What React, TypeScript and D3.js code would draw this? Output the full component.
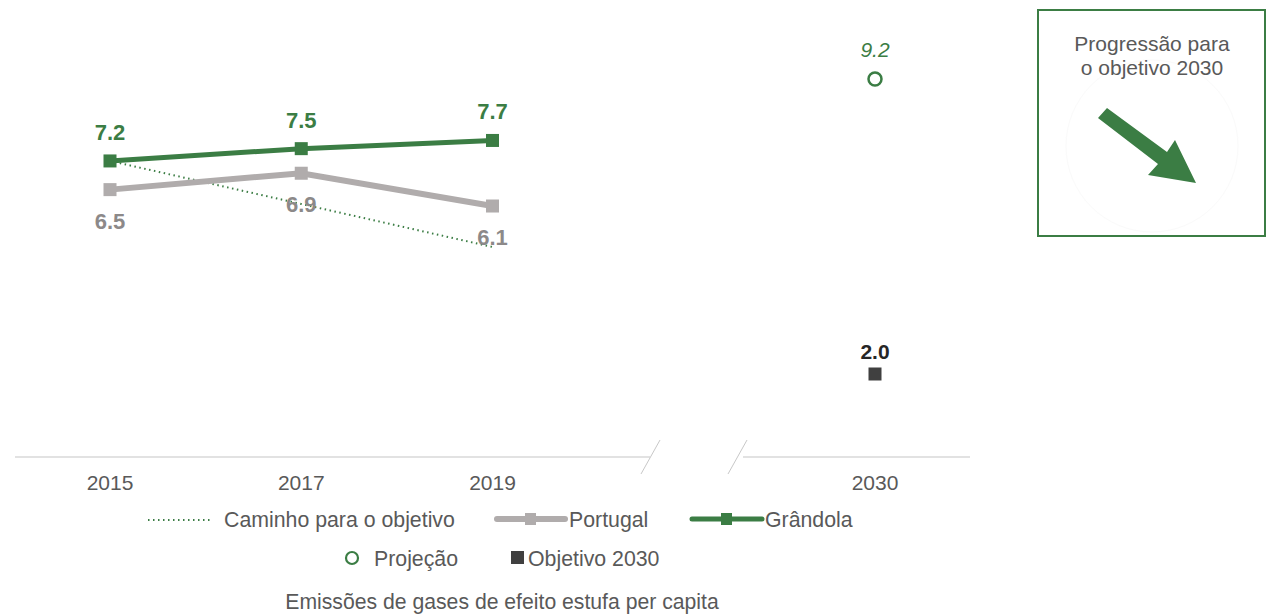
import React from "react";
import * as d3 from "d3";

const years = ["2015", "2017", "2019", "gap", "2030"];
const histYears = ["2015", "2017", "2019"];
const grandola = [7.2, 7.5, 7.7];
const portugal = [6.5, 6.9, 6.1];
const caminho = [7.2, 6.15, 5.1];
const projecao = 9.2;
const objetivo = 2.0;

const GREEN = "#3b7d44";
const GRAY = "#b0acac";
const GRAY_TXT = "#8c8989";
const DARK = "#404040";
const TXT = "#595959";
const FONT = "'Liberation Sans', Arial, sans-serif";

export default function App() {
  const x = d3.scalePoint<string>().domain(years).range([110, 875]);
  const y = d3.scaleLinear().domain([2, 9.2]).range([374, 79]);
  const line = d3
    .line<number>()
    .x((_, i) => x(histYears[i])!)
    .y((d) => y(d));
  const fmt = d3.format(".1f");
  const axisY = 457;
  const sq = 13;

  return (
    <svg
      width={1269}
      height={614}
      style={{ position: "absolute", left: 0, top: 0, fontFamily: FONT }}
    >
      {/* axis with break */}
      <line x1={15} x2={650} y1={axisY} y2={axisY} stroke="#d9d9d9" strokeWidth={1.5} />
      <line x1={743} x2={970} y1={axisY} y2={axisY} stroke="#d9d9d9" strokeWidth={1.5} />
      <line x1={660} y1={440} x2={641} y2={474} stroke="#c8c8c8" strokeWidth={1} />
      <line x1={747} y1={440} x2={728} y2={474} stroke="#c8c8c8" strokeWidth={1} />
      {years
        .filter((d) => d !== "gap")
        .map((d) => (
          <text key={d} x={x(d)} y={490} textAnchor="middle" fontSize={21} fill={TXT}>
            {d}
          </text>
        ))}

      {/* caminho */}
      <path d={line(caminho)!} fill="none" stroke={GREEN} strokeWidth={2} strokeDasharray="1.5 3.5" />
      {/* portugal */}
      <path d={line(portugal)!} fill="none" stroke={GRAY} strokeWidth={6} />
      {portugal.map((v, i) => (
        <g key={"p" + i}>
          <rect x={x(histYears[i])! - sq / 2} y={y(v) - sq / 2} width={sq} height={sq} fill={GRAY} />
          <text x={x(histYears[i])} y={y(v) + 39} textAnchor="middle" fontSize={22} fontWeight="bold" fill={GRAY_TXT}>
            {fmt(v)}
          </text>
        </g>
      ))}
      {/* grandola */}
      <path d={line(grandola)!} fill="none" stroke={GREEN} strokeWidth={5} />
      {grandola.map((v, i) => (
        <g key={"g" + i}>
          <rect x={x(histYears[i])! - sq / 2} y={y(v) - sq / 2} width={sq} height={sq} fill={GREEN} />
          <text x={x(histYears[i])} y={y(v) - 21} textAnchor="middle" fontSize={22} fontWeight="bold" fill={GREEN}>
            {fmt(v)}
          </text>
        </g>
      ))}

      {/* projecao */}
      <circle cx={x("2030")} cy={y(projecao)} r={6.5} fill="none" stroke={GREEN} strokeWidth={2.5} />
      <text x={x("2030")} y={y(projecao) - 22} textAnchor="middle" fontSize={21} fontStyle="italic" fill={GREEN}>
        {fmt(projecao)}
      </text>
      {/* objetivo */}
      <rect x={x("2030")! - 6.5} y={y(objetivo) - 6.5} width={13} height={13} fill={DARK} />
      <text x={x("2030")} y={y(objetivo) - 15} textAnchor="middle" fontSize={21} fontWeight="bold" fill="#262626">
        {fmt(objetivo)}
      </text>

      {/* legend row 1 */}
      <line x1={148} x2={212} y1={520} y2={520} stroke={GREEN} strokeWidth={2} strokeDasharray="1.5 3.5" />
      <text x={224} y={527} fontSize={21.3} fill={TXT}>Caminho para o objetivo</text>
      <line x1={497} x2={565} y1={519} y2={519} stroke={GRAY} strokeWidth={6} strokeLinecap="round" />
      <rect x={525} y={513} width={11} height={12} fill={GRAY} />
      <text x={569} y={527} fontSize={21.3} fill={TXT}>Portugal</text>
      <line x1={692} x2={762} y1={519} y2={519} stroke={GREEN} strokeWidth={5} strokeLinecap="round" />
      <rect x={721} y={513} width={11} height={12} fill={GREEN} />
      <text x={765} y={527} fontSize={21.3} fill={TXT}>Grândola</text>
      {/* legend row 2 */}
      <circle cx={352} cy={558} r={6} fill="none" stroke={GREEN} strokeWidth={2.2} />
      <text x={374} y={566} fontSize={21.3} fill={TXT}>Projeção</text>
      <rect x={511} y={551} width={13} height={13} fill={DARK} />
      <text x={528} y={566} fontSize={21.3} fill={TXT}>Objetivo 2030</text>

      <text x={502} y={609} textAnchor="middle" fontSize={21.2} fill={TXT}>
        Emissões de gases de efeito estufa per capita
      </text>

      {/* progress box */}
      <rect x={1038} y={10} width={227} height={226} fill="none" stroke={GREEN} strokeWidth={2} />
      <circle cx={1152} cy={146} r={86} fill="none" stroke="#fafafa" strokeWidth={1} />
      <text x={1152} y={51} textAnchor="middle" fontSize={21} fill={TXT}>Progressão para</text>
      <text x={1152} y={75} textAnchor="middle" fontSize={21} fill={TXT}>o objetivo 2030</text>
      <polygon
        points="1098,118 1107,108 1167,152 1175,140 1196,183 1148,175 1158,164"
        fill={GREEN}
      />
    </svg>
  );
}
